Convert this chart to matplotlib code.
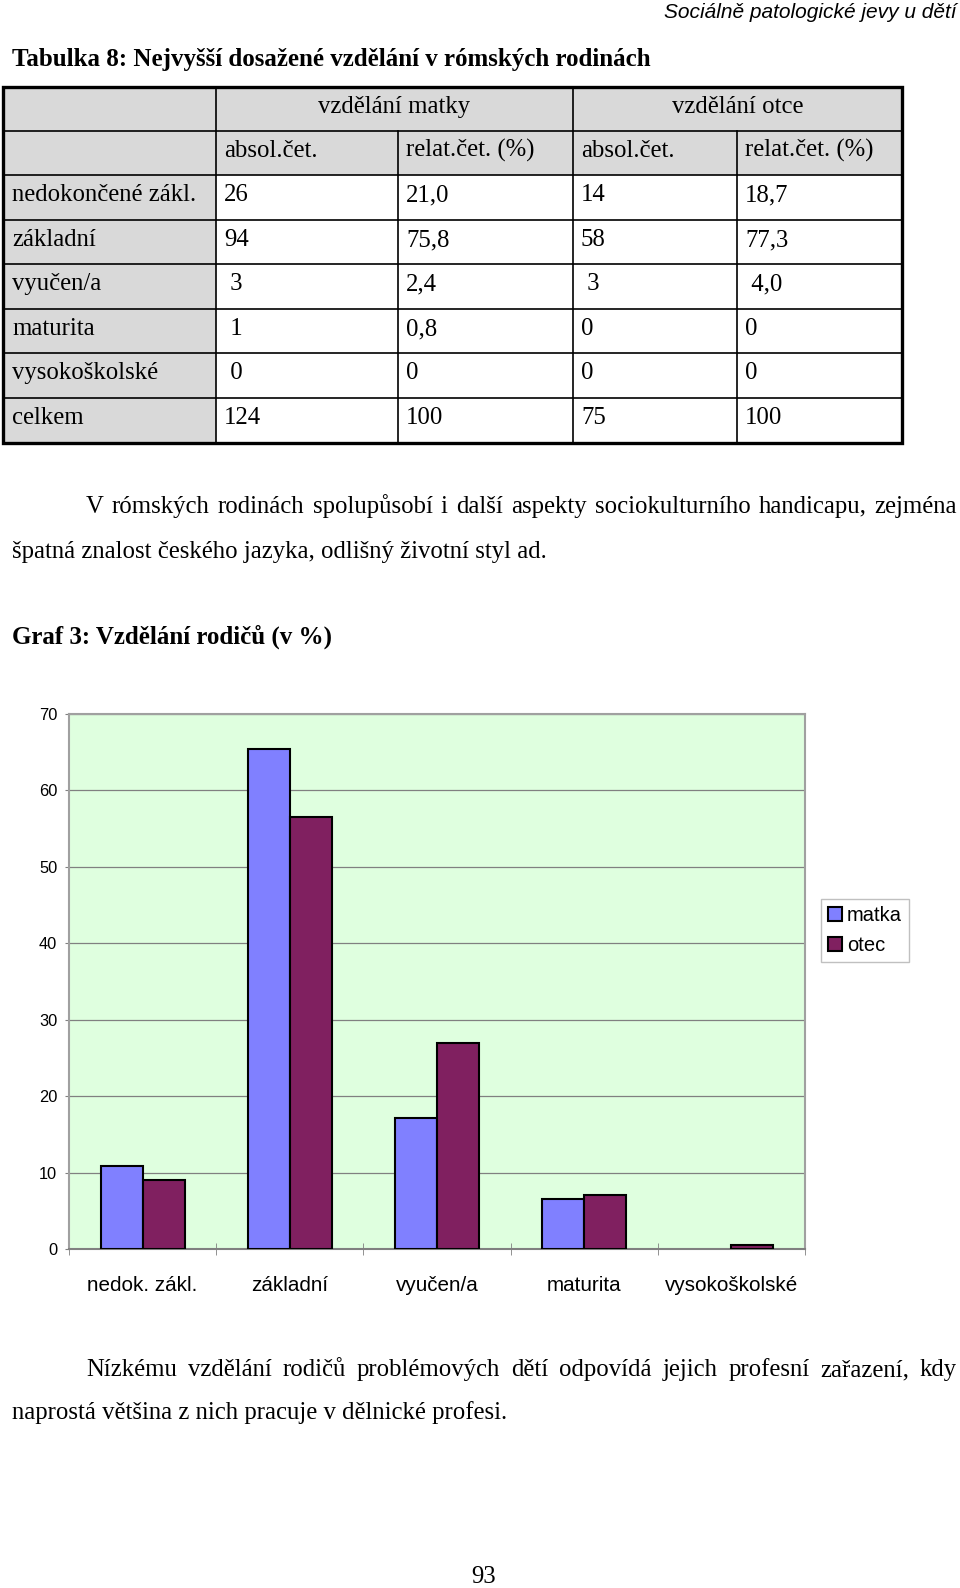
import numpy as np
import matplotlib
matplotlib.use('Agg')
import matplotlib.pyplot as plt
from matplotlib.patches import Rectangle

# Table 8 data
table_title = 'Tabulka 8: Nejvyšší dosažené vzdělání v rómských rodinách'
groups = ['vzdělání matky', 'vzdělání otce']
subheads = ['absol.čet.', 'relat.čet. (%)', 'absol.čet.', 'relat.čet. (%)']
row_names = ['nedokončené zákl.', 'základní', 'vyučen/a', 'maturita', 'vysokoškolské', 'celkem']
matka_abs = ['26', '94', ' 3', ' 1', ' 0', '124']
matka_rel = ['21,0', '75,8', '2,4', '0,8', '0', '100']
otec_abs = ['14', '58', ' 3', '0', '0', '75']
otec_rel = ['18,7', '77,3', ' 4,0', '0', '0', '100']

# Graf 3 data (v %)
categories = ['nedok. zákl.', 'základní', 'vyučen/a', 'maturita', 'vysokoškolské']
matka = [10.9, 65.4, 17.1, 6.5, 0.0]
otec = [9.0, 56.5, 27.0, 7.1, 0.5]

W, H = 960, 1588
fig = plt.figure(figsize=(W / 100, H / 100), dpi=100, facecolor='white')

# page axes in pixel coords (y down)
page = fig.add_axes([0, 0, 1, 1])
page.set_xlim(0, W)
page.set_ylim(H, 0)
page.axis('off')

serif = 'Liberation Serif'
sans = 'Liberation Sans'
body_size = 17.8

page.text(957, 18, 'Sociálně patologické jevy u dětí', family=sans, style='italic',
          size=15, ha='right', va='baseline')
page.text(12, 66, table_title, family=serif, weight='bold', size=18.0, va='baseline')

# table
col_x = [3, 216, 398, 573, 737, 902]
row_y = [87, 131, 175, 220, 264, 309, 353, 398, 443]
grey = '#D9D9D9'
page.add_patch(Rectangle((col_x[0], row_y[0]), col_x[-1] - col_x[0], row_y[2] - row_y[0],
                         facecolor=grey, edgecolor='none'))
page.add_patch(Rectangle((col_x[0], row_y[0]), col_x[1] - col_x[0], row_y[-1] - row_y[0],
                         facecolor=grey, edgecolor='none'))
for y in row_y[1:-1]:
    page.plot([col_x[0], col_x[-1]], [y, y], color='black', lw=1.2)
for x in [col_x[1], col_x[3]]:
    page.plot([x, x], [row_y[0], row_y[-1]], color='black', lw=1.2)
for x in [col_x[2], col_x[4]]:
    page.plot([x, x], [row_y[1], row_y[-1]], color='black', lw=1.2)
page.add_patch(Rectangle((col_x[0], row_y[0]), col_x[-1] - col_x[0], row_y[-1] - row_y[0],
                         facecolor='none', edgecolor='black', lw=2.4))

pad = 8
base = 26
page.text((col_x[1] + col_x[3]) / 2, row_y[0] + base, groups[0], family=serif,
          size=body_size, ha='center', va='baseline')
page.text((col_x[3] + col_x[5]) / 2, row_y[0] + base, groups[1], family=serif,
          size=body_size, ha='center', va='baseline')
for j, s in enumerate(subheads):
    page.text(col_x[j + 1] + pad, row_y[1] + base, s, family=serif, size=body_size, va='baseline')
columns = [row_names, matka_abs, matka_rel, otec_abs, otec_rel]
for j, col in enumerate(columns):
    for i, s in enumerate(col):
        x = 12 if j == 0 else col_x[j] + pad
        page.text(x, row_y[i + 2] + base, s, family=serif, size=body_size, va='baseline')


def justify(text, x0, x1, y, **kw):
    words = text.split()
    ts = [page.text(x0, y, w, va='baseline', **kw) for w in words]
    r = fig.canvas.get_renderer()
    ws = [t.get_window_extent(r).width for t in ts]
    gap = (x1 - x0 - sum(ws)) / (len(words) - 1)
    x = x0
    for t, w in zip(ts, ws):
        t.set_x(x)
        x += w + gap


justify('V rómských rodinách spolupůsobí i další aspekty sociokulturního handicapu, zejména',
        86, 957, 513, family=serif, size=body_size)
page.text(12, 558, 'špatná znalost českého jazyka, odlišný životní styl ad.',
          family=serif, size=body_size, va='baseline')
page.text(12, 644, 'Graf 3: Vzdělání rodičů (v %)', family=serif, weight='bold',
          size=18.0, va='baseline')
justify('Nízkému vzdělání rodičů problémových dětí odpovídá jejich profesní zařazení, kdy',
        86, 957, 1376, family=serif, size=body_size)
page.text(12, 1419, 'naprostá většina z nich pracuje v dělnické profesi.',
          family=serif, size=body_size, va='baseline')
page.text(484, 1583, '93', family=serif, size=body_size, ha='center', va='baseline')

# chart
ax = fig.add_axes([69 / W, 1 - 1249 / H, 736 / W, 535 / H])
ax.set_facecolor('#DFFFDF')
x = np.arange(len(categories))
w = 1 / 3.5
b1 = ax.bar(x - w / 2, matka, w, color='#8080FF', edgecolor='black', lw=1.5, label='matka', zorder=3)
b2 = ax.bar(x + w / 2, otec, w, color='#802060', edgecolor='black', lw=1.5, label='otec', zorder=3)
for bars, vals in [(b1, matka), (b2, otec)]:
    for bar, v in zip(bars, vals):
        if v == 0:
            bar.set_linewidth(0)
ax.set_xlim(-0.5, len(categories) - 0.5)
ax.set_ylim(0, 70)
ax.set_yticks(np.arange(0, 71, 10))
ax.yaxis.grid(True, color='#808080', lw=0.9)
ax.set_axisbelow(True)
ax.set_xticks(x)
ax.set_xticklabels(categories, family=sans, size=14.9)
ax.set_xticks(np.arange(-0.5, len(categories), 1), minor=True)
ax.tick_params(axis='x', which='major', length=0, pad=19.5)
ax.tick_params(axis='x', which='minor', direction='inout', length=9, color='#808080')
ax.tick_params(axis='y', length=3, color='#808080', pad=5.5, labelsize=11.8)
for lab in ax.get_yticklabels():
    lab.set_family(sans)
for s in ax.spines.values():
    s.set_color('#A0A0A0')
    s.set_linewidth(1.5)
ax.spines['bottom'].set_color('#808080')

fig.legend(handles=[b1, b2], labels=['matka', 'otec'], loc='upper left',
           bbox_to_anchor=(821 / W, 1 - 899 / H), borderaxespad=0,
           prop={'family': sans, 'size': 14.5}, fancybox=False, framealpha=1,
           edgecolor='#C0C0C0', handlelength=0.7, handleheight=0.7,
           handletextpad=0.25, labelspacing=0.55, borderpad=0.35)

fig.savefig('out.png', dpi=100, facecolor='white')
